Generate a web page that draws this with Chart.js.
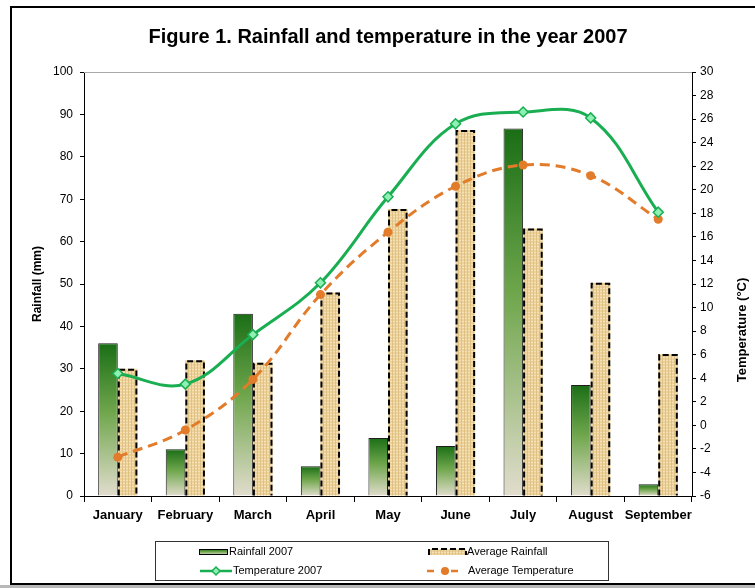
<!DOCTYPE html>
<html>
<head>
<meta charset="utf-8">
<script src="https://cdn.jsdelivr.net/npm/chart.js@4.4.1/dist/chart.umd.min.js"></script>
<style>
  html, body { margin: 0; padding: 0; background: #fff; overflow: hidden; }
  #wrap { position: relative; width: 755px; height: 588px; }
  #frame { position: absolute; left: 10px; top: 6px; width: 800px; height: 575px;
           border-left: 2px solid #000; border-top: 2px solid #000; border-bottom: 2px solid #000; }
  #strip { position: absolute; left: 0; top: 585px; width: 755px; height: 3px; background: #b8b8b8; }
  #chartBox { position: absolute; left: 0; top: 0; width: 755px; height: 588px; }
</style>
</head>
<body>
<div id="wrap">
  <div id="frame"></div>
  <div id="strip"></div>
  <div id="chartBox"><canvas id="rainChart"></canvas></div>
</div>
<script>
// --- Chart data ---
const months = ["January", "February", "March", "April", "May", "June", "July", "August", "September"];
const rainfall2007 = [36, 11, 43, 7, 13.7, 11.8, 86.7, 26.2, 2.8];
const averageRainfall = [30, 32, 31.4, 48, 67.7, 86.3, 63.1, 50.3, 33.5];
const temperature2007 = [4.4, 3.5, 7.7, 12.1, 19.4, 25.6, 26.6, 26.1, 18.1];
const averageTemperature = [-2.7, -0.4, 3.9, 11.1, 16.4, 20.3, 22.1, 21.2, 17.5];

const FONT = "'Liberation Sans', Arial, sans-serif";
const GREEN = '#1aae52';
const ORANGE = '#e27b2a';

// --- burlap-ish texture for the average rainfall bars ---
function makeTexture() {
    const c = document.createElement('canvas');
    c.width = 6; c.height = 6;
    const g = c.getContext('2d');
    g.fillStyle = '#ecd198';
    g.fillRect(0, 0, 6, 6);
    g.fillStyle = '#f5e2b8';
    g.fillRect(0, 0, 6, 1);
    g.fillRect(0, 3, 6, 1);
    g.fillStyle = '#e0c185';
    g.fillRect(2, 0, 1, 6);
    g.fillRect(5, 0, 1, 6);
    return g.createPattern(c, 'repeat');
}
const tanPattern = makeTexture();

// --- per bar vertical gradient for rainfall 2007 ---
function greenGradient(ctx, top, bottom) {
    const g = ctx.createLinearGradient(0, top, 0, bottom);
    g.addColorStop(0, '#1a6e16');
    g.addColorStop(0.45, '#6fa64c');
    g.addColorStop(1, '#e2ddcd');
    return g;
}

// plot frame line on top + dashed outline on average rainfall bars
const decorations = {
    id: 'decorations',
    beforeDatasetsDraw(chart) {
        const { ctx, chartArea } = chart;
        ctx.save();
        ctx.strokeStyle = '#a8a8a8';
        ctx.lineWidth = 1;
        ctx.beginPath();
        ctx.moveTo(chartArea.left, chartArea.top + 0.5);
        ctx.lineTo(chartArea.right, chartArea.top + 0.5);
        ctx.stroke();
        ctx.restore();
    },
    afterDatasetDraw(chart, args) {
        if (args.index !== 1) return;
        const ctx = chart.ctx;
        ctx.save();
        ctx.strokeStyle = '#000';
        ctx.lineWidth = 2;
        ctx.setLineDash([6, 3]);
        args.meta.data.forEach(bar => {
            const l = bar.x - bar.width / 2 + 1, r = bar.x + bar.width / 2 - 1;
            ctx.beginPath();
            ctx.moveTo(l, bar.base);
            ctx.lineTo(l, bar.y + 1);
            ctx.lineTo(r, bar.y + 1);
            ctx.lineTo(r, bar.base);
            ctx.stroke();
        });
        ctx.restore();
    }
};

// right axis title reads bottom-to-top like the left one
const rightTitle = {
    id: 'rightTitle',
    afterDraw(chart) {
        const ctx = chart.ctx;
        const s = chart.scales.y1;
        ctx.save();
        ctx.translate(s.right - 13, (s.top + s.bottom) / 2 + 46);
        ctx.rotate(-Math.PI / 2);
        ctx.font = 'bold 13px ' + FONT;
        ctx.fillStyle = '#000';
        ctx.textAlign = 'center';
        ctx.textBaseline = 'middle';
        ctx.fillText('Temperature (\u00B0C)', 0, 0);
        ctx.restore();
    }
};

// boxed two column legend under the axis
const boxLegend = {
    id: 'boxLegend',
    afterDraw(chart) {
        const ctx = chart.ctx;
        const bx = 155, by = 541, bw = 453, bh = 39;
        ctx.save();
        ctx.strokeStyle = '#333';
        ctx.lineWidth = 1;
        ctx.strokeRect(bx + 0.5, by + 0.5, bw, bh);

        const row1 = by + 11, row2 = by + 30;
        // Rainfall 2007
        ctx.fillStyle = greenGradient(ctx, row1 - 3, row1 + 3);
        ctx.fillRect(199, row1 - 3, 29, 6);
        ctx.strokeStyle = '#000';
        ctx.strokeRect(199.5, row1 - 2.5, 28, 5);
        // Average Rainfall
        ctx.fillStyle = tanPattern;
        ctx.fillRect(429, row1 - 3, 37, 6);
        ctx.lineWidth = 2;
        ctx.setLineDash([6, 3]);
        ctx.beginPath();
        ctx.moveTo(429, row1 + 3); ctx.lineTo(429, row1 - 3); ctx.lineTo(466, row1 - 3); ctx.lineTo(466, row1 + 3);
        ctx.stroke();
        ctx.setLineDash([]);
        // Temperature 2007
        ctx.strokeStyle = GREEN;
        ctx.lineWidth = 2.5;
        ctx.beginPath(); ctx.moveTo(200, row2); ctx.lineTo(232, row2); ctx.stroke();
        ctx.fillStyle = '#8ef0b2';
        ctx.lineWidth = 1.5;
        ctx.beginPath();
        ctx.moveTo(216, row2 - 4); ctx.lineTo(220, row2); ctx.lineTo(216, row2 + 4); ctx.lineTo(212, row2);
        ctx.closePath(); ctx.fill(); ctx.stroke();
        // Average Temperature
        ctx.strokeStyle = ORANGE;
        ctx.lineWidth = 2.5;
        ctx.beginPath(); ctx.moveTo(427, row2); ctx.lineTo(434, row2); ctx.stroke();
        ctx.beginPath(); ctx.moveTo(451, row2); ctx.lineTo(458, row2); ctx.stroke();
        ctx.fillStyle = ORANGE;
        ctx.beginPath(); ctx.arc(445, row2, 4, 0, Math.PI * 2); ctx.fill();

        ctx.fillStyle = '#000';
        ctx.font = '11px ' + FONT;
        ctx.textBaseline = 'middle';
        ctx.fillText('Rainfall 2007', 229, row1);
        ctx.fillText('Average Rainfall', 467, row1);
        ctx.fillText('Temperature 2007', 233, row2);
        ctx.fillText('Average Temperature', 468, row2);
        ctx.restore();
    }
};

const canvas = document.getElementById('rainChart');
new Chart(canvas, {
    data: {
        labels: months,
        datasets: [
            {
                type: 'bar', label: 'Rainfall 2007', data: rainfall2007, yAxisID: 'y', order: 2,
                backgroundColor: (c) => {
                    const chart = c.chart;
                    if (!chart.chartArea || c.type !== 'data') return '#4f8f35';
                    const y = chart.scales.y;
                    return greenGradient(chart.ctx, y.getPixelForValue(c.raw), y.getPixelForValue(0));
                },
                borderColor: '#1e1e1e', borderWidth: 1,
                barPercentage: 1, categoryPercentage: 0.58
            },
            {
                type: 'bar', label: 'Average Rainfall', data: averageRainfall, yAxisID: 'y', order: 2,
                backgroundColor: tanPattern, borderWidth: 0,
                barPercentage: 1, categoryPercentage: 0.58
            },
            {
                type: 'line', label: 'Temperature 2007', data: temperature2007, yAxisID: 'y1', order: 0,
                borderColor: GREEN, borderWidth: 3, tension: 0.38,
                pointStyle: 'rectRot', pointRadius: 5, pointBackgroundColor: '#8ef0b2',
                pointBorderColor: GREEN, pointBorderWidth: 1.5
            },
            {
                type: 'line', label: 'Average Temperature', data: averageTemperature, yAxisID: 'y1', order: 1,
                borderColor: ORANGE, borderWidth: 3, borderDash: [10, 6], tension: 0.38,
                pointStyle: 'circle', pointRadius: 4.5, pointBackgroundColor: ORANGE,
                pointBorderColor: ORANGE, pointBorderWidth: 0
            }
        ]
    },
    options: {
        animation: false,
        responsive: true,
        maintainAspectRatio: false,
        layout: { padding: 0 },
        plugins: {
            legend: { display: false },
            tooltip: { enabled: false },
            title: {
                display: true, fullSize: false,
                text: 'Figure 1. Rainfall and temperature in the year 2007',
                color: '#000', font: { family: FONT, size: 20, weight: 'bold' },
                padding: { top: 25, bottom: 23 }
            }
        },
        scales: {
            x: {
                offset: true,
                grid: { display: true, drawOnChartArea: false, tickLength: 6, color: '#000', offset: true },
                border: { color: '#000', width: 1 },
                ticks: { color: '#000', font: { family: FONT, size: 13, weight: 'bold' }, padding: 6,
                         maxRotation: 0, autoSkip: false },
                afterFit: (s) => { s.height = 92; }
            },
            y: {
                position: 'left', min: 0, max: 100,
                ticks: { stepSize: 10, color: '#000', font: { family: FONT, size: 12 }, padding: 7 },
                grid: { drawOnChartArea: false, tickLength: 4, color: '#000' },
                border: { color: '#000', width: 1 },
                title: { display: true, text: 'Rainfall (mm)', color: '#000',
                         font: { family: FONT, size: 12, weight: 'bold' }, padding: { top: 30 } },
                afterFit: (s) => { s.width = 84; }
            },
            y1: {
                position: 'right', min: -6, max: 30,
                ticks: { stepSize: 2, color: '#000', font: { family: FONT, size: 12 }, padding: 4 },
                grid: { drawOnChartArea: false, tickLength: 4, color: '#000' },
                border: { color: '#000', width: 1 },
                afterFit: (s) => { s.width = 63; }
            }
        }
    },
    plugins: [decorations, rightTitle, boxLegend]
});
</script>
</body>
</html>
